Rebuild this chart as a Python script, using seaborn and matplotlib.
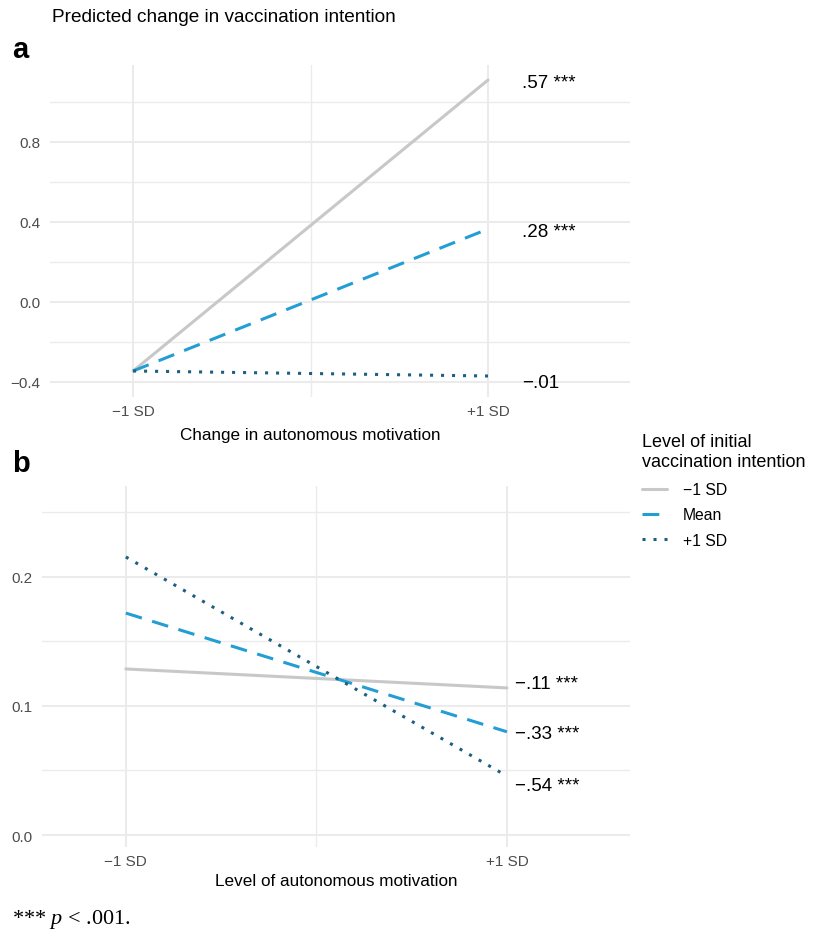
import numpy as np
import pandas as pd
import seaborn as sns
import matplotlib.pyplot as plt
import matplotlib.transforms as mtransforms

# data
levels = ['\u22121 SD', 'Mean', '+1 SD']
x_ticks = ['\u22121 SD', '+1 SD']

a_low = [-0.345, 1.11]
a_mean = [-0.345, 0.365]
a_high = [-0.345, -0.37]
a_labels = ['.57 ***', '.28 ***', '\u2212.01']

b_low = [0.1287, 0.114]
b_mean = [0.172, 0.080]
b_high = [0.2155, 0.0457]
b_labels = ['\u2212.11 ***', '\u2212.33 ***', '\u2212.54 ***']

colors = {'\u22121 SD': '#c8c8c8', 'Mean': '#239ed4', '+1 SD': '#1d5f80'}
dashes = {'\u22121 SD': '', 'Mean': (5.5, 3.5), '+1 SD': (1.0, 2.6)}


def make_df(low, mean, high):
    rows = []
    for lev, vals in zip(levels, [low, mean, high]):
        for i, v in enumerate(vals):
            rows.append({'x': i, 'y': v, 'level': lev})
    return pd.DataFrame(rows)


df_a = make_df(a_low, a_mean, a_high)
df_b = make_df(b_low, b_mean, b_high)

sns.set_theme(style='white')
plt.rcParams['font.family'] = ['Liberation Sans', 'DejaVu Sans']
plt.rcParams['text.color'] = 'black'
plt.rcParams['axes.labelcolor'] = 'black'
plt.rcParams['mathtext.fontset'] = 'custom'
plt.rcParams['mathtext.it'] = 'Liberation Serif:italic'
plt.rcParams['mathtext.rm'] = 'Liberation Serif'

fig = plt.figure(figsize=(8.14, 9.37), dpi=100)
W, H = 814, 937
ax_a = fig.add_axes([50 / W, 1 - 398 / H, 580 / W, 332 / H])
ax_b = fig.add_axes([42 / W, 1 - 848 / H, 588 / W, 361 / H])

grid_col = '#ebebeb'


def style_axes(ax, xlim, ylim, yt, ymin, xlabel):
    ax.set_xlim(*xlim)
    ax.set_ylim(*ylim)
    ax.set_xticks([0, 1])
    ax.set_xticklabels(x_ticks)
    ax.set_xticks([0.5], minor=True)
    ax.set_yticks(yt)
    ax.set_yticklabels([f'{v:.1f}'.replace('-', '\u2212') for v in yt])
    ax.set_yticks(ymin, minor=True)
    ax.grid(True, which='major', color=grid_col, lw=1.5)
    ax.grid(True, which='minor', color=grid_col, lw=1.0)
    ax.set_axisbelow(True)
    for s in ax.spines.values():
        s.set_visible(False)
    ax.tick_params(axis='both', which='both', length=0, labelsize=11,
                   labelcolor='#4d4d4d')
    ax.tick_params(axis='y', pad=7)
    ax.tick_params(axis='x', pad=5)
    ax.set_xlabel(xlabel, fontsize=12.3, color='black', va='center')
    ax.set_ylabel('')


# panel a
sns.lineplot(data=df_a, x='x', y='y', hue='level', style='level',
             palette=colors, dashes=dashes, hue_order=levels,
             style_order=levels, lw=2.2, ax=ax_a)
handles, labs = ax_a.get_legend_handles_labels()
ax_a.get_legend().remove()
style_axes(ax_a, (-0.234, 1.40), (-0.475, 1.185), [-0.4, 0.0, 0.4, 0.8],
           [-0.2, 0.2, 0.6, 1.0], 'Change in autonomous motivation')
ax_a.xaxis.set_label_coords(0.5, -0.114,
                            transform=mtransforms.blended_transform_factory(
                                ax_a.transData, ax_a.transAxes))
ends_a = [a_low[1], a_mean[1], a_high[1]]
for y, lab, dy in zip(ends_a, a_labels, [-1.5, -2, -5]):
    ax_a.annotate(lab, xy=(1.095, y), xytext=(0, dy),
                  textcoords='offset points', fontsize=13.5,
                  va='center', ha='left')

# panel b
sns.lineplot(data=df_b, x='x', y='y', hue='level', style='level',
             palette=colors, dashes=dashes, hue_order=levels,
             style_order=levels, lw=2.2, ax=ax_b, legend=False)
style_axes(ax_b, (-0.22, 1.323), (-0.0093, 0.2705), [0.0, 0.1, 0.2],
           [0.05, 0.15, 0.25], 'Level of autonomous motivation')
ax_b.xaxis.set_label_coords(0.5, -0.094)
ends_b = [b_low[1], b_mean[1], b_high[1]]
for y, lab, dy in zip(ends_b, b_labels, [3.5, -1.5, -7]):
    ax_b.annotate(lab, xy=(1.02, y), xytext=(0, dy),
                  textcoords='offset points', fontsize=13.5,
                  va='center', ha='left')

# legend
leg = fig.legend(handles, labs, loc='upper left',
                 bbox_to_anchor=(628 / W, 1 - 420 / H),
                 title='Level of initial\nvaccination intention',
                 frameon=False, fontsize=11.3, title_fontsize=13,
                 handlelength=1.6, labelspacing=0.65, handletextpad=1.0)
leg._legend_box.align = 'left'
leg._legend_box.sep = 9
for t in leg.get_texts():
    t.set_color('black')

# titles and panel letters
fig.text(52 / W, 1 - 18 / H, 'Predicted change in vaccination intention',
         fontsize=13.7, va='center', ha='left')
fig.text(12 / W, 1 - 50 / H, 'a', fontsize=21, fontweight='bold',
         va='center', ha='left')
fig.text(12 / W, 1 - 464 / H, 'b', fontsize=21, fontweight='bold',
         va='center', ha='left')
fig.text(12 / W, 1 - 920 / H, r'*** $p$ < .001.', fontsize=16,
         family='Liberation Serif', va='center', ha='left')

fig.savefig('out.png', dpi=100)
